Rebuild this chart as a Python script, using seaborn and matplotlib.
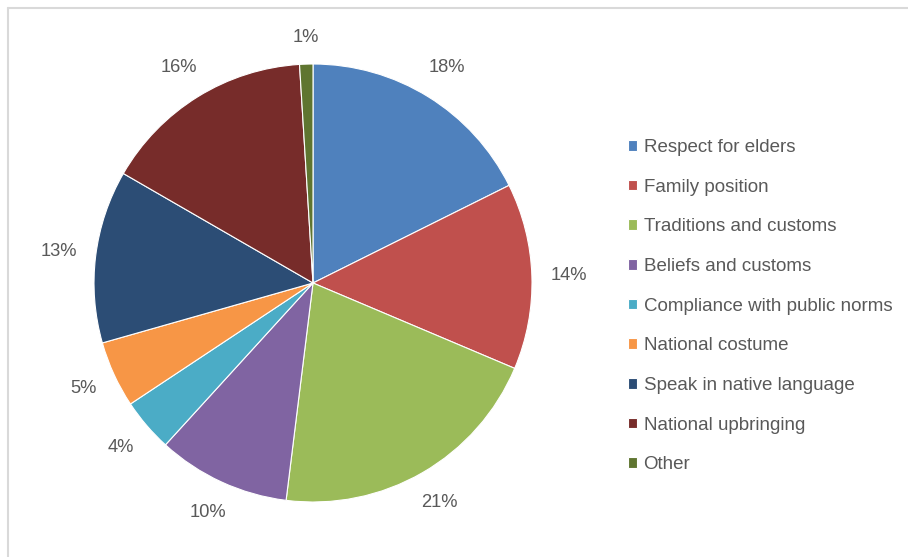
import numpy as np
import matplotlib
matplotlib.use("Agg")
import matplotlib.pyplot as plt
from matplotlib.lines import Line2D
import seaborn as sns

# Survey shares (percent) per category, drawn clockwise from 12 o'clock
categories = [
    "Respect for elders",
    "Family position",
    "Traditions and customs",
    "Beliefs and customs",
    "Compliance with public norms",
    "National costume",
    "Speak in native language",
    "National upbringing",
    "Other",
]
shares = [18, 14, 21, 10, 4, 5, 13, 16, 1]
share_labels = [f"{v}%" for v in shares]
slice_colors = ["#4F81BD", "#C0504D", "#9BBB59", "#8064A2", "#4BACC6",
                "#F79646", "#2C4D75", "#772C2A", "#5F7530"]

sns.set_theme(style="white")
plt.rcParams["font.family"] = ["Liberation Sans", "DejaVu Sans"]
palette = sns.color_palette(slice_colors)
TEXT = "#595959"

W, H = 908, 557
fig = plt.figure(figsize=(W / 100, H / 100), dpi=100)
fig.patch.set_facecolor("white")

# pie geometry in pixels
R = 219
cx, cy = 313, 283
k = 1.25
half = R * k
ax = fig.add_axes([(cx - half) / W, (H - cy - half) / H, 2 * half / W, 2 * half / H])

wedges, _ = ax.pie(
    shares, colors=palette, startangle=90, counterclock=False, radius=1,
    wedgeprops=dict(edgecolor="white", linewidth=0.8),
)
ax.set_xlim(-k, k)
ax.set_ylim(-k, k)
ax.set_aspect("equal")
ax.axis("off")

# percentage labels just outside each slice
renderer = fig.canvas.get_renderer()
gap = 18
for w, lab in zip(wedges, share_labels):
    th = np.deg2rad((w.theta1 + w.theta2) / 2)
    t = ax.text(0, 0, lab, fontsize=13.2, color=TEXT, ha="center", va="center")
    bb = t.get_window_extent(renderer)
    hw, hh = bb.width / 2, bb.height / 2
    dist = (R + gap + hw * abs(np.cos(th)) + hh * abs(np.sin(th))) / R
    t.set_position((dist * np.cos(th), dist * np.sin(th)))
    t.set_clip_on(False)

# legend with small square markers
leg = fig.legend(
    wedges, categories, loc="upper left",
    bbox_to_anchor=(628 / W, (H - 139) / H), bbox_transform=fig.transFigure,
    frameon=False, fontsize=13.5, handlelength=0.5, handleheight=0.5,
    handletextpad=0.33, labelspacing=1.21, borderpad=0, borderaxespad=0,
)
for txt in leg.get_texts():
    txt.set_color(TEXT)

# light chart-area border along the left and top edges
border = "#d9d9d9"
fig.add_artist(Line2D([7.5 / W, 7.5 / W], [0, (H - 7.5) / H],
                      transform=fig.transFigure, color=border, lw=1.5))
fig.add_artist(Line2D([7.5 / W, 1], [(H - 7.5) / H, (H - 7.5) / H],
                      transform=fig.transFigure, color=border, lw=1.5))

fig.savefig("out.png", dpi=100, facecolor="white")
